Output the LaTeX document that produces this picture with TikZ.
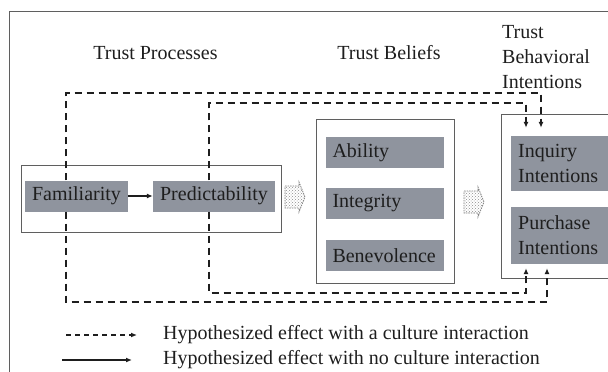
\documentclass[tikz,border=0pt]{standalone}
\usepackage{fontspec}
\setmainfont{Liberation Serif}
\newfontfamily\figface{Liberation Serif}
\usetikzlibrary{arrows.meta,patterns}
\definecolor{boxgray}{RGB}{143,148,158}
\definecolor{inkdark}{RGB}{30,30,30}
\definecolor{framegray}{RGB}{95,95,95}
\tikzset{txt/.style={font=\figface\fontsize{20}{25}\selectfont, text=inkdark, inner sep=0pt}}
\tikzset{factor/.style={txt, fill=boxgray, inner xsep=7pt, minimum height=31pt}}
\tikzset{lfactor/.style={factor, text width=104pt, align=left}}
\tikzset{group/.style={draw=framegray, line width=0.9pt, inner sep=0pt}}
\tikzset{cult/.style={line width=1.8pt, color=inkdark, dash pattern=on 7pt off 5pt, -{Latex[length=6pt,width=5pt]}}}
\tikzset{legcult/.style={line width=1.3pt, color=inkdark, dash pattern=on 5pt off 4pt, -{Latex[length=6pt,width=5pt]}}}
\tikzset{nocult/.style={line width=1.3pt, color=inkdark, -{Latex[length=6pt,width=5pt]}}}
\tikzset{flow/.style={draw=gray, dash pattern=on 1.5pt off 1pt, line width=0.8pt,
    pattern=crosshatch dots, pattern color=gray!90}}
% block arrow, 20 long and 30 high, centred on #1
\newcommand{\flowarrow}[1]{%
  \draw[flow] ([shift={(-10,-11)}]#1) -- ([shift={(4,-11)}]#1) -- ([shift={(4,-15)}]#1)
    -- ([shift={(10,0)}]#1) -- ([shift={(4,15)}]#1) -- ([shift={(4,11)}]#1)
    -- ([shift={(-10,11)}]#1) -- cycle;}

\begin{document}
\begin{tikzpicture}[x=1pt,y=-1pt]
    \useasboundingbox (0,0) rectangle (608,372);
    \clip (0,0) rectangle (608,372);
    \draw[framegray, line width=1pt] (9,11) rectangle (640,400);

    % headings
    \node[txt] (proct) at (155.5,53) {Trust Processes};
    \node[txt] (belt) at (389,53) {Trust Beliefs};
    \node[txt, anchor=west, align=left] (intt) at (502,57) {Trust\\Behavioral\\Intentions};

    % group boxes
    \node[group, minimum width=260pt, minimum height=67pt] (procbox) at (151,198.5) {};
    \node[group, minimum width=138pt, minimum height=164pt] (belbox) at (385,201) {};
    \node[group, anchor=north west, minimum width=140pt, minimum height=164pt] (intbox) at (501,114) {};

    % trust processes
    \node[factor, minimum width=103pt] (fam) at (76.5,196) {Familiarity};
    \node[factor, minimum width=122pt] (pred) at (214,196) {Predictability};

    % trust beliefs
    \node[lfactor] (abil) at (384.5,152.5) {Ability};
    \node[lfactor] (integ) at (384.5,203.5) {Integrity};
    \node[lfactor] (benev) at (384.5,255.5) {Benevolence};

    % intentions
    \node[factor, anchor=west, text width=110pt, align=left, minimum height=55pt] (inq) at (511,163.5) {Inquiry\\Intentions};
    \node[factor, anchor=west, text width=110pt, align=left, minimum height=57pt] (purch) at (511,235.5) {Purchase\\Intentions};

    \coordinate (flowa) at (295,197);
    \coordinate (flowb) at (474,202);
    \flowarrow{flowa}
    \flowarrow{flowb}

    \draw[nocult] (fam) -- (pred);

    % culture paths
    \coordinate (otl) at (66,93);
    \coordinate (otr) at (541,93);
    \coordinate (obl) at (66,302);
    \coordinate (obr) at (547,302);
    \coordinate (itl) at (209,103);
    \coordinate (itr) at (526,103);
    \coordinate (ibl) at (209,293);
    \coordinate (ibr) at (526,293);

    \draw[cult, shorten >=8pt] (fam.north -| otl) -- (otl) -- (otr) -- (inq.north -| otr);
    \draw[cult, shorten >=4pt] (fam.south -| obl) -- (obl) -- (obr) -- (purch.south -| obr);
    \draw[cult, shorten >=8pt] (pred.north -| itl) -- (itl) -- (itr) -- (inq.north -| itr);
    \draw[cult, shorten >=4pt] (pred.south -| ibl) -- (ibl) -- (ibr) -- (purch.south -| ibr);

    % legend
    \coordinate (lda) at (66,335);
    \coordinate (ldb) at (137,335);
    \coordinate (lsa) at (62,360);
    \coordinate (lsb) at (132,360);
    \draw[legcult] (lda) -- (ldb);
    \draw[nocult] (lsa) -- (lsb);
    \node[txt, anchor=west] (lgda) at (163,335) {Hypothesized effect with a culture interaction};
    \node[txt, anchor=west] (lgdb) at (163,360) {Hypothesized effect with no culture interaction};
\end{tikzpicture}
\end{document}
